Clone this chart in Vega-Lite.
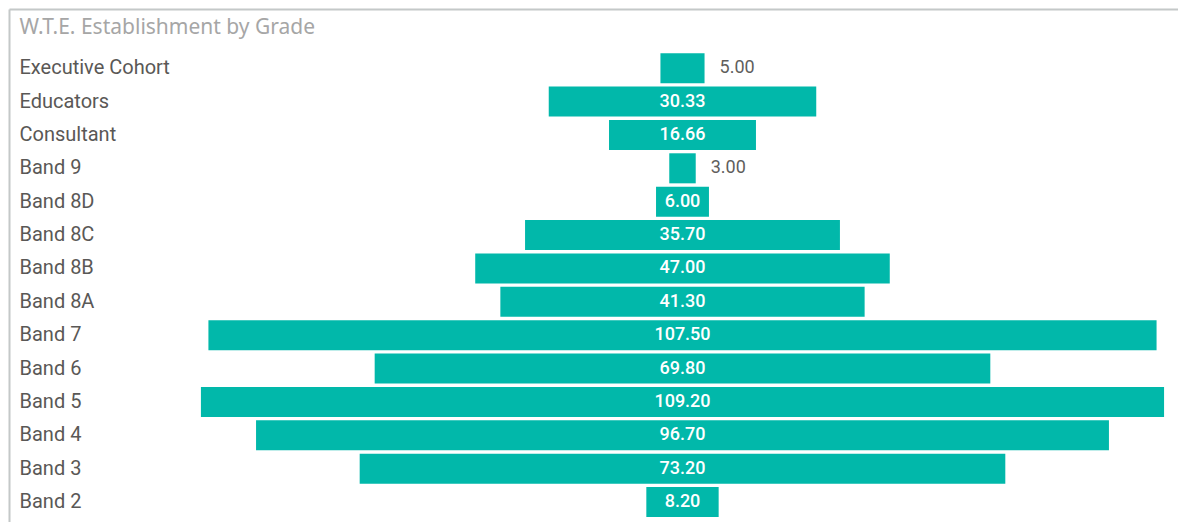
{
  "$schema": "https://vega.github.io/schema/vega-lite/v6.json",
  "autosize": {"type": "fit", "contains": "padding"},
  "width": 1178,
  "height": 522,
  "padding": {"left": 9, "top": 9, "right": 0, "bottom": 0},
  "background": "white",
  "config": {"view": {"stroke": null}},
  "data": {
    "values": [
      {"grade": "Executive Cohort", "value": 5.00},
      {"grade": "Educators", "value": 30.33},
      {"grade": "Consultant", "value": 16.66},
      {"grade": "Band 9", "value": 3.00},
      {"grade": "Band 8D", "value": 6.00},
      {"grade": "Band 8C", "value": 35.70},
      {"grade": "Band 8B", "value": 47.00},
      {"grade": "Band 8A", "value": 41.30},
      {"grade": "Band 7", "value": 107.50},
      {"grade": "Band 6", "value": 69.80},
      {"grade": "Band 5", "value": 109.20},
      {"grade": "Band 4", "value": 96.70},
      {"grade": "Band 3", "value": 73.20},
      {"grade": "Band 2", "value": 8.20}
    ]
  },
  "transform": [
    {"calculate": "-datum.value / 2", "as": "lo"},
    {"calculate": "datum.value / 2", "as": "hi"}
  ],
  "encoding": {
    "y": {
      "field": "grade",
      "type": "nominal",
      "sort": null,
      "scale": {"paddingInner": 0.1, "paddingOuter": 0.735, "align": 0.9},
      "axis": {
        "title": null,
        "orient": "left",
        "domain": true,
        "domainColor": "#c4c8c8",
        "domainWidth": 2,
        "ticks": false,
        "labelAlign": "left",
        "labelPadding": -10,
        "labelFont": "Roboto",
        "labelFontSize": 20,
        "labelFontWeight": "normal",
        "labelColor": "#5a5856",
        "labelBaseline": "middle"
      }
    }
  },
  "layer": [
    {
      "mark": {"type": "bar", "color": "#01B8AA"},
      "encoding": {
        "x": {
          "field": "lo",
          "type": "quantitative",
          "scale": {"domain": [-76.36, 56.18], "nice": false, "zero": false},
          "axis": {
            "orient": "top",
            "title": "W.T.E. Establishment by Grade",
            "titleX": 10,
            "titleY": 18,
            "titleAlign": "left",
            "titleAnchor": "start",
            "titleBaseline": "middle",
            "titleFont": "Noto Sans",
            "titleFontSize": 21,
            "titleFontWeight": "normal",
            "titleColor": "#a6a6a6",
            "domain": true,
            "domainColor": "#c4c8c8",
            "domainWidth": 2,
            "labels": false,
            "ticks": false,
            "grid": false
          }
        },
        "x2": {"field": "hi"}
      }
    },
    {
      "transform": [{"filter": "datum.value > 5.5"}],
      "mark": {"type": "text", "color": "white", "font": "Roboto", "fontSize": 18, "fontWeight": 500, "baseline": "middle", "align": "center"},
      "encoding": {
        "x": {"datum": 0, "type": "quantitative"},
        "text": {"field": "value", "type": "quantitative", "format": ".2f"}
      }
    },
    {
      "transform": [{"filter": "datum.value <= 5.5"}],
      "mark": {"type": "text", "color": "#605E5C", "font": "Roboto", "fontSize": 18, "baseline": "middle", "align": "left", "dx": 15},
      "encoding": {
        "x": {"field": "hi", "type": "quantitative"},
        "text": {"field": "value", "type": "quantitative", "format": ".2f"}
      }
    }
  ]
}
